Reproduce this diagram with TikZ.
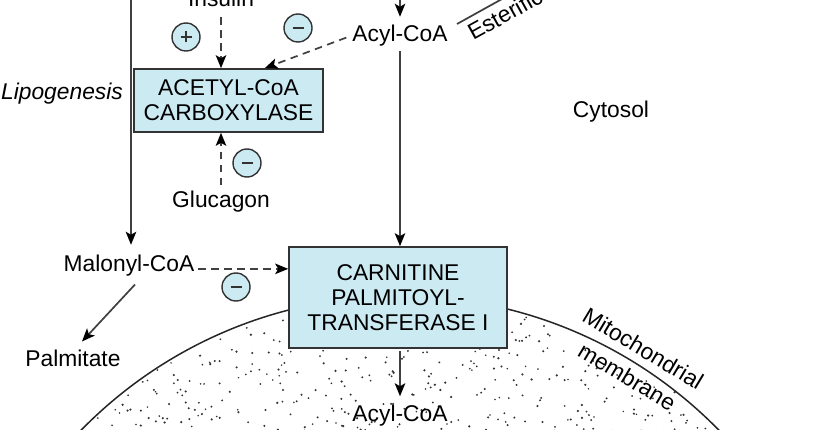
\documentclass[tikz,border=0pt]{standalone}
\usepackage{fontspec}
\setmainfont{Liberation Sans}
\usetikzlibrary{arrows.meta,calc}
\definecolor{boxblue}{HTML}{CBEAF2}
\definecolor{linec}{HTML}{404040}
\definecolor{edgec}{HTML}{333333}
\tikzset{
  txt/.style={font=\fontsize{22.8}{25}\selectfont, inner sep=2pt},
  enzbox/.style={draw=edgec, fill=boxblue, line width=1.6pt, align=center,
    font=\fontsize{22.8}{25}\selectfont, inner sep=2pt},
  tip/.style={-{Stealth[length=13pt,width=10.5pt,inset=3pt,black]}},
  conn/.style={draw=linec, line width=1.7pt},
  dashconn/.style={conn, dash pattern=on 7.5pt off 5.5pt},
  sign/.style={circle, draw=edgec, fill=boxblue, line width=1.4pt,
    minimum size=28pt, inner sep=0pt},
  minussign/.style={sign, path picture={
    \draw[edgec, line width=1.3pt]
      ([xshift=-5.5pt]path picture bounding box.center) --
      ([xshift=5.5pt]path picture bounding box.center);}},
  plussign/.style={sign, path picture={
    \draw[edgec, line width=1.3pt]
      ([xshift=-5.5pt]path picture bounding box.center) --
      ([xshift=5.5pt]path picture bounding box.center)
      ([yshift=-5.5pt]path picture bounding box.center) --
      ([yshift=5.5pt]path picture bounding box.center);}}
}
\begin{document}
\begin{tikzpicture}[x=1pt,y=-1pt]
\useasboundingbox (0,0) rectangle (840,430);
\clip (0,0) rectangle (840,430);
\fill[white] (0,0) rectangle (840,430);

% mitochondrion interior (stipple) and membrane
\begin{scope}
  \clip (400,742) circle[radius=446pt];
  \pgfmathsetseed{4242}
  \foreach \i in {1,...,620}{
    \pgfmathsetmacro{\px}{60+680*rnd}
    \pgfmathsetmacro{\py}{292+140*rnd}
    \pgfmathsetmacro{\pr}{0.85+0.4*rnd}
    \fill[black!80] (\px,\py) circle[radius=\pr pt];
  }
\end{scope}
\draw[line width=1.5pt, black!85] (400,742) circle[radius=446pt];

% nodes
\node[txt, anchor=base] (insulin) at (221,7) {Insulin};
\node[enzbox, minimum width=189pt, minimum height=63pt] (acc) at (228.5,100.5) {ACETYL-CoA\\CARBOXYLASE};
\node[txt, anchor=base] (acyl1) at (400,41.5) {Acyl-CoA};
\node[txt, anchor=base, font=\fontsize{22.8}{25}\selectfont\itshape] (lipo) at (62,100) {Lipogenesis};
\node[txt, anchor=base] (gluc) at (221,208) {Glucagon};
\node[txt, anchor=base] (cyt) at (611,118) {Cytosol};
\node[txt, anchor=base] (mal) at (129,271.5) {Malonyl-CoA};
\node[txt, anchor=base] (palm) at (73,366.5) {Palmitate};
\node[enzbox, minimum width=218pt, minimum height=101pt] (cpt) at (398,297.5) {CARNITINE\\PALMITOYL-\\TRANSFERASE I};
\node[txt, anchor=base] (acyl2) at (400,421) {Acyl-CoA};
\node[txt, anchor=base west, rotate=29] (est) at (471.5,42) {Esterification};
\node[txt, anchor=base, rotate=-31] (mito) at (639,355.5) {Mitochondrial};
\node[txt, anchor=base, rotate=-31] (memb) at (623,383.5) {membrane};

% regulation signs
\node[plussign] (s1) at (186,37) {};
\node[minussign] (s2) at (298,28) {};
\node[minussign] (s3) at (247,163) {};
\node[minussign] (s4) at (236,287) {};

% free ends
\coordinate (ltop) at (131,-5);
\coordinate (atop) at (400,-5);
\coordinate (est0) at (457,24);
\coordinate (est1) at (520,-11);

% connectors
\draw[conn, tip, shorten >=8pt] (ltop) -- (ltop |- mal.north);
\draw[conn, tip, shorten >=6pt] (atop) -- (acyl1.north);
\draw[conn] (est0) -- (est1);
\draw[dashconn, tip, shorten <=8pt] (insulin.south) -- (insulin.south |- acc.north);
\draw[dashconn, tip] ([xshift=-4pt,yshift=-2pt]acyl1.west) -- ($(acc.north west)!0.69!(acc.north east)$);
\draw[dashconn, tip, shorten <=4pt] (gluc.north) -- (gluc.north |- acc.south);
\draw[conn, tip, shorten <=3pt] (acyl1.south) -- (acyl1.south |- cpt.north);
\draw[dashconn, tip] ([xshift=2pt]mal.mid east) -- (mal.mid east -| cpt.west);
\draw[conn, tip] ($(mal.base)+(6,13)$) -- ($(palm.base)+(9,-25)$);
\draw[conn, tip, shorten <=2pt, shorten >=6pt] (acyl2.north |- cpt.south) -- (acyl2.north);
\end{tikzpicture}
\end{document}
